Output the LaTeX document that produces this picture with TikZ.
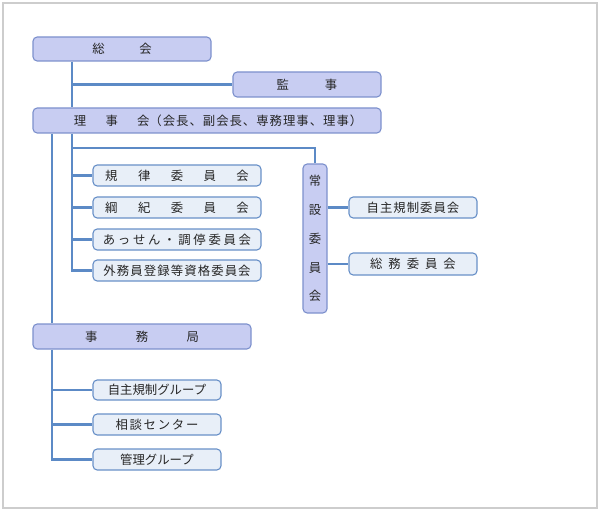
\documentclass[tikz,border=0pt]{standalone}
\usepackage{fontspec}
\setmainfont{Noto Sans CJK JP}
\definecolor{headfill}{RGB}{200,205,242}
\definecolor{headline}{RGB}{125,145,205}
\definecolor{unitfill}{RGB}{232,239,248}
\definecolor{unitline}{RGB}{105,145,200}
\definecolor{linkcol}{RGB}{92,138,198}
\definecolor{framecol}{RGB}{205,205,205}
\newcommand{\ls}[2]{{\addfontfeatures{LetterSpace=#1}#2}}

\begin{document}
\begin{tikzpicture}[x=0.025cm, y=-0.025cm,
  head/.style={draw=headline, fill=headfill, rounded corners=3pt, line width=0.8pt,
               inner sep=0pt, font=\fontsize{8.8}{10}\selectfont, text=black!85},
  unit/.style={draw=unitline, fill=unitfill, rounded corners=3pt, line width=0.8pt,
               inner sep=0pt, minimum width=168*0.025cm, minimum height=21*0.025cm,
               font=\fontsize{8.8}{10}\selectfont, text=black!85},
  link/.style={draw=linkcol, line width=1.5pt}
]
  \useasboundingbox (0,0) rectangle (600,512);
  \draw[framecol, line width=0.8pt] (3,3) rectangle (597,508);

  % top level
  \node[head, minimum width=178*0.025cm, minimum height=24*0.025cm] (soukai) at (122,49) {総\hspace{2.8em}会};
  \node[head, minimum width=148*0.025cm, minimum height=25*0.025cm] (kanji) at (307,84.5) {監\hspace{2.9em}事};
  \node[head, minimum width=348*0.025cm, minimum height=25*0.025cm] (rijikai) at (207,120.5) {\hspace{1.8em}理\hspace{1.55em}事\hspace{1.55em}会\ls{8}{（会長、副会長、専務理事、理事）}};

  % committees
  \node[unit] (kiritsu) at (177,175.5) {規\hspace{1.65em}律\hspace{1.65em}委\hspace{1.65em}員\hspace{1.65em}会};
  \node[unit] (koki)    at (177,207.5) {綱\hspace{1.65em}紀\hspace{1.65em}委\hspace{1.65em}員\hspace{1.65em}会};
  \node[unit] (assen)   at (177,239.5) {\ls{22}{あっせん・調停委員会}};
  \node[unit] (gaimuin) at (177,270.5) {\ls{9}{外務員登録等資格委員会}};

  % standing committees
  \node[head, minimum width=24*0.025cm, minimum height=149*0.025cm,
        align=center, font=\fontsize{8.8}{20.5}\selectfont] (joset) at (315,238.5) {常\\設\\委\\員\\会};
  \node[unit, minimum width=128*0.025cm] (jishu) at (413,207.5) {\ls{8}{自主規制委員会}};
  \node[unit, minimum width=128*0.025cm, minimum height=22*0.025cm] (somu) at (413,264) {総\hspace{0.48em}務\hspace{0.48em}委\hspace{0.48em}員\hspace{0.48em}会};

  % secretariat
  \node[head, minimum width=218*0.025cm, minimum height=25*0.025cm] (jimukyoku) at (142,336.5) {事\hspace{3.1em}務\hspace{3.1em}局};
  \node[unit, minimum width=128*0.025cm, minimum height=20*0.025cm] (jgroup) at (157,390) {自主規制グループ};
  \node[unit, minimum width=128*0.025cm] (sodan) at (157,424.5) {\ls{14}{相談センター}};
  \node[unit, minimum width=128*0.025cm] (kanri) at (157,459.5) {管理グループ};

  % connectors
  \coordinate (trunkA) at (72,0);
  \coordinate (trunkB) at (52,0);
  \coordinate (bend) at (315,148);
  \draw[link] (trunkA |- soukai.south) -- (trunkA |- rijikai.north);
  \draw[link] (trunkA |- kanji) -- (kanji.west);
  \draw[link] (trunkA |- rijikai.south) |- (gaimuin.west);
  \foreach \n in {kiritsu,koki,assen}
    \draw[link] (trunkA |- \n) -- (\n.west);
  \draw[link] (trunkA |- bend) -- (bend) -- (joset.north);
  \draw[link] (joset.east |- jishu) -- (jishu.west);
  \draw[link] (joset.east |- somu) -- (somu.west);
  \draw[link] (trunkB |- rijikai.south) -- (trunkB |- jimukyoku.north);
  \draw[link] (trunkB |- jimukyoku.south) |- (kanri.west);
  \foreach \n in {jgroup,sodan}
    \draw[link] (trunkB |- \n) -- (\n.west);
\end{tikzpicture}
\end{document}
